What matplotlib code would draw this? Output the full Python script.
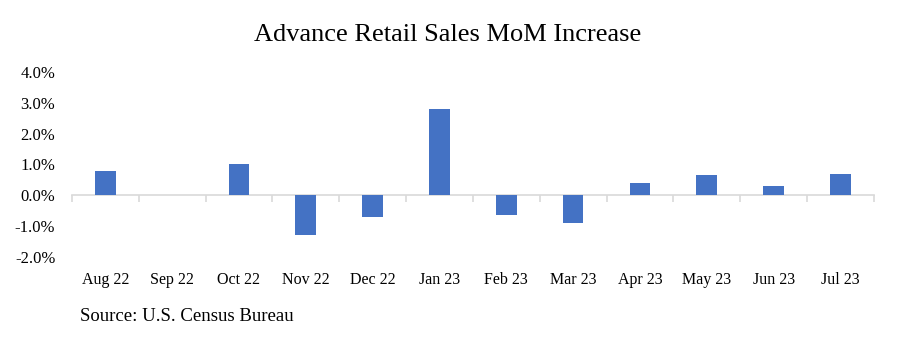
import matplotlib.pyplot as plt
import numpy as np

months = ['Aug 22', 'Sep 22', 'Oct 22', 'Nov 22', 'Dec 22', 'Jan 23',
          'Feb 23', 'Mar 23', 'Apr 23', 'May 23', 'Jun 23', 'Jul 23']
mom_pct = [0.8, 0.0, 1.0, -1.3, -0.7, 2.8, -0.65, -0.9, 0.4, 0.65, 0.3, 0.7]
y_ticks = [-2, -1, 0, 1, 2, 3, 4]

plt.rcParams['font.family'] = ['Liberation Serif', 'DejaVu Serif']

fig = plt.figure(figsize=(8.99, 3.56), dpi=100)
ax = fig.add_axes([0.080, 0.278, 0.892, 0.520])

x = np.arange(len(months))
ax.bar(x, mom_pct, width=0.31, color='#4472C4', linewidth=0, zorder=3)

ax.set_xlim(-0.5, len(months) - 0.5)
ax.set_ylim(-2, 4)
ax.set_yticks(y_ticks)
ax.set_yticklabels(['%.1f%%' % v for v in y_ticks], fontsize=12)
ax.tick_params(axis='y', length=0, pad=12)

# x axis sits on the zero line, labels pushed down to the bottom
for side in ['left', 'right', 'top']:
    ax.spines[side].set_visible(False)
ax.spines['bottom'].set_position(('data', 0))
ax.spines['bottom'].set_color('#d9d9d9')
ax.spines['bottom'].set_linewidth(1.2)
ax.set_xticks(x)
ax.set_xticklabels(months, fontsize=11.5)
ax.set_xticks(np.arange(len(months) + 1) - 0.5, minor=True)
ax.tick_params(axis='x', which='major', length=0, pad=55)
ax.tick_params(axis='x', which='minor', length=5, color='#d9d9d9', width=1.2)

fig.text(0.498, 0.902, 'Advance Retail Sales MoM Increase', ha='center', va='center', fontsize=19)
fig.text(0.089, 0.112, 'Source: U.S. Census Bureau', ha='left', va='center', fontsize=13.5)

fig.savefig('out.png', dpi=100)
